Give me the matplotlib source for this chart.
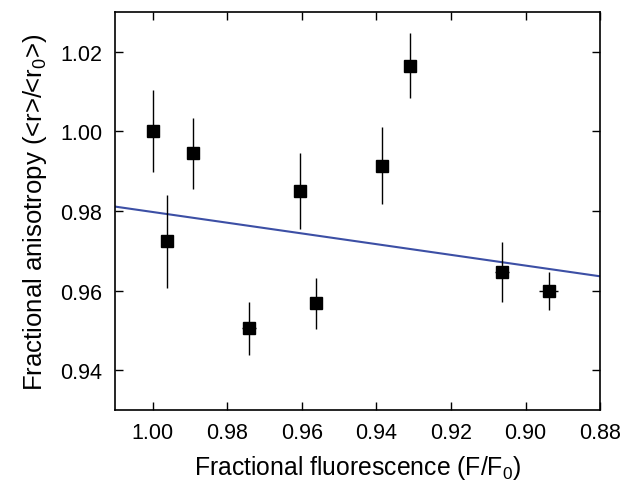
import matplotlib
matplotlib.use("Agg")
import matplotlib.pyplot as plt

plt.rcParams['font.family'] = ['Liberation Sans', 'DejaVu Sans']
plt.rcParams['mathtext.fontset'] = 'custom'
plt.rcParams['mathtext.rm'] = 'Liberation Sans'
plt.rcParams['mathtext.it'] = 'Liberation Sans'

# data
frac_fluor = [1.000, 0.9963, 0.9893, 0.9741, 0.9605, 0.9563, 0.9386, 0.931, 0.9063, 0.8938]
frac_aniso = [1.000, 0.9724, 0.9945, 0.9505, 0.9851, 0.9568, 0.9914, 1.0165, 0.9646, 0.9599]
aniso_err = [0.0103, 0.0117, 0.0090, 0.0066, 0.0095, 0.0064, 0.0097, 0.0082, 0.0075, 0.0047]
fluor_err = [0.0, 0.0, 0.0, 0.0019, 0.0, 0.0, 0.0, 0.0, 0.0018, 0.0025]
fit_x = [1.01, 0.88]
fit_y = [0.9811, 0.9636]
x_ticks = [1.00, 0.98, 0.96, 0.94, 0.92, 0.90, 0.88]
y_ticks = [0.94, 0.96, 0.98, 1.00, 1.02]

fig = plt.figure(figsize=(6.31, 4.85), dpi=100)
ax = fig.add_axes([0.182, 0.1526, 0.769, 0.8204])

ax.plot(fit_x, fit_y, color='#3c4fa5', lw=1.5, zorder=2)
ax.errorbar(frac_fluor, frac_aniso, yerr=aniso_err, xerr=fluor_err, fmt='s',
            color='black', ms=8.5, elinewidth=1.0, capsize=0, zorder=3)

ax.set_xlim(1.0102, 0.88)
ax.set_ylim(0.930, 1.030)
ax.set_xticks(x_ticks)
ax.set_yticks(y_ticks)
ax.set_xticklabels([f"{v:.2f}" for v in x_ticks])
ax.set_yticklabels([f"{v:.2f}" for v in y_ticks])
ax.tick_params(direction='in', length=6, width=1.0, top=True, right=True,
               labelsize=15.5, pad=9)
for s in ax.spines.values():
    s.set_linewidth(1.2)

ax.set_xlabel('Fractional fluorescence (F/F$_0$)', fontsize=17.8, labelpad=7)
ax.set_ylabel('Fractional anisotropy (<r>/<r$_0$>)', fontsize=18.5, labelpad=8)

fig.savefig('out.png', dpi=100)
